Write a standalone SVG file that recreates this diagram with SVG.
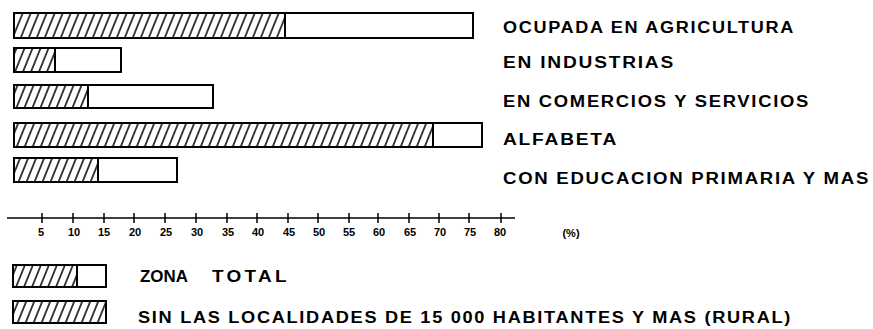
<svg xmlns="http://www.w3.org/2000/svg" width="873" height="329" viewBox="0 0 873 329">
<defs>
<pattern id="hatch" patternUnits="userSpaceOnUse" width="8" height="40" patternTransform="skewX(-22)">
<line x1="4" y1="0" x2="4" y2="40" stroke="#000" stroke-width="1.6"/>
</pattern>
<style>
.bar{fill:#fff;stroke:#000;stroke-width:2}
.hat{fill:url(#hatch);stroke:#000;stroke-width:2}
.lbl{font-family:"Liberation Sans",Arial,sans-serif;font-weight:bold;font-size:16px;letter-spacing:1.5px;fill:#000}
.leg{font-family:"Liberation Sans",Arial,sans-serif;font-weight:bold;font-size:17px;fill:#000}
.ax{font-family:"Liberation Sans",Arial,sans-serif;font-weight:bold;font-size:11px;fill:#000;text-anchor:middle}
.tick{stroke:#000;stroke-width:1.5}
</style>
</defs>
<rect width="873" height="329" fill="#fff"/>

<g id="bar-agricultura">
<rect class="bar" x="14" y="13" width="459" height="25"/>
<rect class="hat" x="14" y="13" width="271" height="25"/>
<text class="lbl" x="503" y="33" textLength="292" lengthAdjust="spacingAndGlyphs">OCUPADA EN AGRICULTURA</text>
</g>
<g id="bar-industrias">
<rect class="bar" x="14" y="48" width="107" height="24"/>
<rect class="hat" x="14" y="48" width="41" height="24"/>
<text class="lbl" x="503" y="68" textLength="172" lengthAdjust="spacingAndGlyphs">EN INDUSTRIAS</text>
</g>
<g id="bar-comercios">
<rect class="bar" x="14" y="85" width="199" height="23"/>
<rect class="hat" x="14" y="85" width="74" height="23"/>
<text class="lbl" x="503" y="107" textLength="307" lengthAdjust="spacingAndGlyphs">EN COMERCIOS Y SERVICIOS</text>
</g>
<g id="bar-alfabeta">
<rect class="bar" x="14" y="123" width="468" height="24"/>
<rect class="hat" x="14" y="123" width="419" height="24"/>
<text class="lbl" x="503" y="145" textLength="115" lengthAdjust="spacingAndGlyphs">ALFABETA</text>
</g>
<g id="bar-educacion">
<rect class="bar" x="14" y="158" width="163" height="24"/>
<rect class="hat" x="14" y="158" width="84" height="24"/>
<text class="lbl" x="503" y="184" textLength="367" lengthAdjust="spacingAndGlyphs">CON EDUCACION PRIMARIA Y MAS</text>
</g>

<g id="axis">
<line class="tick" x1="7" y1="218" x2="515" y2="218"/>
<g class="tick">
<line x1="42" y1="213" x2="42" y2="223"/>
<line x1="73" y1="213" x2="73" y2="223"/>
<line x1="104" y1="213" x2="104" y2="223"/>
<line x1="134" y1="213" x2="134" y2="223"/>
<line x1="165" y1="213" x2="165" y2="223"/>
<line x1="196" y1="213" x2="196" y2="223"/>
<line x1="227" y1="213" x2="227" y2="223"/>
<line x1="257" y1="213" x2="257" y2="223"/>
<line x1="288" y1="213" x2="288" y2="223"/>
<line x1="318" y1="213" x2="318" y2="223"/>
<line x1="349" y1="213" x2="349" y2="223"/>
<line x1="378" y1="213" x2="378" y2="223"/>
<line x1="409" y1="213" x2="409" y2="223"/>
<line x1="439" y1="213" x2="439" y2="223"/>
<line x1="469" y1="213" x2="469" y2="223"/>
<line x1="501" y1="213" x2="501" y2="223"/>
</g>
<text class="ax" x="41" y="236">5</text>
<text class="ax" x="74" y="236">10</text>
<text class="ax" x="104" y="236">15</text>
<text class="ax" x="135" y="236">20</text>
<text class="ax" x="166" y="236">25</text>
<text class="ax" x="197" y="236">30</text>
<text class="ax" x="228" y="236">35</text>
<text class="ax" x="258" y="236">40</text>
<text class="ax" x="289" y="236">45</text>
<text class="ax" x="319" y="236">50</text>
<text class="ax" x="349" y="236">55</text>
<text class="ax" x="379" y="236">60</text>
<text class="ax" x="410" y="236">65</text>
<text class="ax" x="440" y="236">70</text>
<text class="ax" x="470" y="236">75</text>
<text class="ax" x="500" y="236">80</text>
<text class="ax" x="571" y="237">(%)</text>
</g>

<g id="legend-total">
<rect class="bar" x="13" y="265" width="93" height="22"/>
<rect class="hat" x="13" y="265" width="64" height="22"/>
<text class="leg" x="140" y="282" textLength="48" lengthAdjust="spacingAndGlyphs">ZONA</text>
<text class="leg" x="212" y="282" letter-spacing="3" textLength="78" lengthAdjust="spacingAndGlyphs">TOTAL</text>
</g>
<g id="legend-rural">
<rect class="hat" x="13" y="301" width="93" height="22"/>
<text class="lbl" x="138" y="323" textLength="654" lengthAdjust="spacingAndGlyphs">SIN LAS LOCALIDADES DE 15 000 HABITANTES Y MAS (RURAL)</text>
</g>
</svg>
